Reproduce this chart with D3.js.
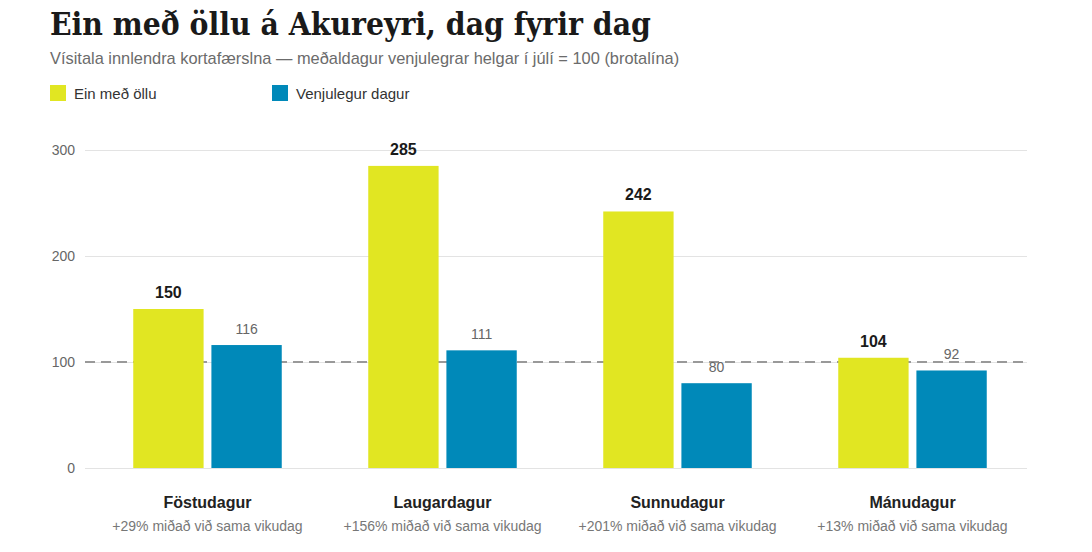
<!DOCTYPE html>
<html>
<head>
<meta charset="utf-8">
<script src="https://cdn.jsdelivr.net/npm/d3@7"></script>
<style>
  body { margin: 0; background: #fff; }
  text { font-family: "Liberation Sans", Arial, sans-serif; }
</style>
</head>
<body>
<div id="chart"></div>
<script>
var days        =   ['Föstudagur', 'Laugardagur', 'Sunnudagur', 'Mánudagur'];
var notes       =   ['+29% miðað við sama vikudag', '+156% miðað við sama vikudag',
                     '+201% miðað við sama vikudag', '+13% miðað við sama vikudag'];
var festival    =   [150, 285, 242, 104];
var normal      =   [116, 111, 80, 92];
var series      =   ['Ein með öllu', 'Venjulegur dagur'];
var y_ticks     =   [0, 100, 200, 300];
var baseline    =   100;

var chart_width     =   1092;
var chart_height    =   552;
var colors          =   ['#e1e622', '#0089b9'];

var svg = d3.select( '#chart' )
    .append( 'svg' )
    .attr( 'width', chart_width )
    .attr( 'height', chart_height );

// Titill og undirtitill
svg.append( 'text' )
    .text( 'Ein með öllu á Akureyri, dag fyrir dag' )
    .attr( 'x', 50 )
    .attr( 'y', 35 )
    .style( 'font-family', '"DejaVu Serif Condensed", "DejaVu Serif", serif' )
    .style( 'font-stretch', 'condensed' )
    .attr( 'font-weight', 'bold' )
    .attr( 'font-size', 31.5 )
    .attr( 'fill', '#1a1a1a' );

svg.append( 'text' )
    .text( 'Vísitala innlendra kortafærslna — meðaldagur venjulegrar helgar í júlí = 100 (brotalína)' )
    .attr( 'x', 50 )
    .attr( 'y', 64 )
    .attr( 'font-size', 16.4 )
    .attr( 'fill', '#6b6b6b' );

// Skýringar
var legend = svg.selectAll( '.legend' )
    .data( series )
    .enter()
    .append( 'g' )
    .attr( 'transform', function( d, i ){
        return 'translate(' + ( 50 + i * 222 ) + ',85)';
    });

legend.append( 'rect' )
    .attr( 'width', 16 )
    .attr( 'height', 16 )
    .attr( 'fill', function( d, i ){ return colors[i]; });

legend.append( 'text' )
    .text( function( d ){ return d; })
    .attr( 'x', 24 )
    .attr( 'y', 14 )
    .attr( 'font-size', 15 )
    .attr( 'fill', '#333' );

// Kvarðar
var plot_left   =   85;
var plot_right  =   1027;
var group_width =   148.5;

var x0 = d3.scaleBand()
    .domain( days )
    .range( [90, 1030] );

var x1 = d3.scaleBand()
    .domain( [0, 1] )
    .range( [0, group_width] )
    .paddingInner( 0.1 );

var y_scale = d3.scaleLinear()
    .domain( [0, 300] )
    .range( [468, 150] );

// Hnitalínur
var y_axis = svg.append( 'g' )
    .attr( 'transform', 'translate(' + plot_left + ',0)' )
    .call( d3.axisLeft( y_scale )
        .tickValues( y_ticks )
        .tickSize( -( plot_right - plot_left ) )
        .tickPadding( 10 ) );

y_axis.select( '.domain' ).remove();
y_axis.selectAll( '.tick line' )
    .attr( 'stroke', '#e3e3e3' )
    .attr( 'stroke-width', 1 );
y_axis.selectAll( '.tick text' )
    .attr( 'font-size', 14 )
    .attr( 'fill', '#666' )
    .style( 'font-family', '"Liberation Sans", Arial, sans-serif' );

// Brotalína við 100 (á bak við súlurnar)
svg.append( 'line' )
    .attr( 'x1', plot_left )
    .attr( 'x2', plot_right )
    .attr( 'y1', y_scale( baseline ) )
    .attr( 'y2', y_scale( baseline ) )
    .attr( 'stroke', '#999' )
    .attr( 'stroke-width', 2 )
    .attr( 'stroke-dasharray', '10,6' );

// Súlur
var groups = svg.selectAll( '.day' )
    .data( days )
    .enter()
    .append( 'g' )
    .attr( 'transform', function( d ){
        return 'translate(' + ( x0( d ) + ( x0.bandwidth() - group_width ) / 2 ) + ',0)';
    });

groups.selectAll( 'rect' )
    .data( function( d, i ){ return [festival[i], normal[i]]; })
    .enter()
    .append( 'rect' )
    .attr( 'x', function( d, i ){ return x1( i ); })
    .attr( 'y', function( d ){ return y_scale( d ); })
    .attr( 'width', x1.bandwidth() )
    .attr( 'height', function( d ){ return y_scale( 0 ) - y_scale( d ); })
    .attr( 'fill', function( d, i ){ return colors[i]; });

// Gildismerki
groups.selectAll( '.val' )
    .data( function( d, i ){ return [festival[i], normal[i]]; })
    .enter()
    .append( 'text' )
    .text( function( d ){ return d; })
    .attr( 'x', function( d, i ){ return x1( i ) + x1.bandwidth() / 2; })
    .attr( 'y', function( d ){ return y_scale( d ) - 11; })
    .attr( 'text-anchor', 'middle' )
    .attr( 'font-size', function( d, i ){ return i === 0 ? 16 : 14; })
    .attr( 'font-weight', function( d, i ){ return i === 0 ? 'bold' : 'normal'; })
    .attr( 'fill', function( d, i ){ return i === 0 ? '#1a1a1a' : '#666'; });

// Flokkamerki
svg.selectAll( '.day-label' )
    .data( days )
    .enter()
    .append( 'text' )
    .text( function( d ){ return d; })
    .attr( 'x', function( d ){ return x0( d ) + x0.bandwidth() / 2; })
    .attr( 'y', 508 )
    .attr( 'text-anchor', 'middle' )
    .attr( 'font-size', 16 )
    .attr( 'font-weight', 'bold' )
    .attr( 'fill', '#222' );

svg.selectAll( '.note' )
    .data( notes )
    .enter()
    .append( 'text' )
    .text( function( d ){ return d; })
    .attr( 'x', function( d, i ){ return x0( days[i] ) + x0.bandwidth() / 2; })
    .attr( 'y', 531 )
    .attr( 'text-anchor', 'middle' )
    .attr( 'font-size', 14 )
    .attr( 'fill', '#777' );
</script>
</body>
</html>
